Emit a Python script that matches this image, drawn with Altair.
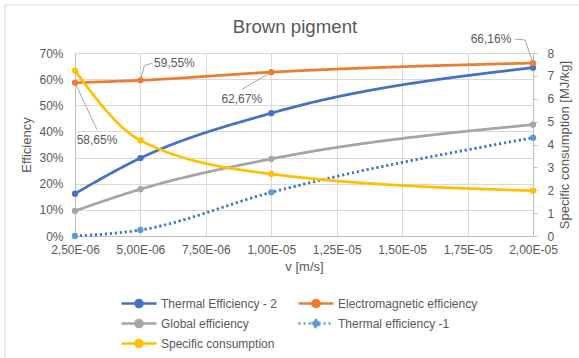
import altair as alt
import pandas as pd

# ---- data -------------------------------------------------------------
v = [2.5e-6, 5.0e-6, 1.0e-5, 2.0e-5]
thermal_eff_2 = [0.162, 0.298, 0.470, 0.644]
electromagnetic_eff = [0.5865, 0.5955, 0.6267, 0.6616]
global_eff = [0.096, 0.179, 0.295, 0.426]
thermal_eff_1 = [0.0, 0.023, 0.167, 0.376]
specific_consumption = [7.23, 4.18, 2.71, 1.98]

series_names = [
    "Thermal Efficiency - 2",
    "Electromagnetic efficiency",
    "Global efficiency",
    "Thermal efficiency -1",
    "Specific consumption",
]
series_colors = ["#4472C4", "#ED7D31", "#A5A5A5", "#5B9BD5", "#FFC000"]
x_ticks = [2.5e-6, 5.0e-6, 7.5e-6, 1.0e-5, 1.25e-5, 1.5e-5, 1.75e-5, 2.0e-5]
left_ticks = [0, 0.1, 0.2, 0.3, 0.4, 0.5, 0.6, 0.7]
right_ticks = [0, 1, 2, 3, 4, 5, 6, 7, 8]

# ---- styling ------------------------------------------------------------
W, H = 458, 183
FONT = "Liberation Sans"
TXT = "#595959"
GRID = "#D9D9D9"
DOMAIN = "#BFBFBF"
DOTTED = "#4472C4"
SOLID = [1, 0]
DOT_DASH = [2, 3]
series_dash = [SOLID, SOLID, SOLID, DOT_DASH, SOLID]

# legend glyph: a line with a marker in the middle (unit size 10 px -> 35 px wide)
LEGEND_GLYPH = "M-3.5,0L3.5,0M0.7,0A0.7,0.7,0,1,1,-0.7,0A0.7,0.7,0,1,1,0.7,0Z"

# label placement around the electromagnetic points: (text dx, text dy, leader vertices)
label_style = [
    (22, 57, [(0, 0), (22, 47)]),
    (34, -17, [(0, 0), (4, -15), (12, -17)]),
    (-29.5, 27, [(0, 0), (-29, 17)]),
    (-42, -24, [(0, 0), (-8, -23), (-18, -24)]),
]

rows = []
for name, vals in zip(series_names, [thermal_eff_2, electromagnetic_eff, global_eff,
                                     thermal_eff_1, specific_consumption]):
    for xv, yv in zip(v, vals):
        rows.append({"v": xv, "series": name, "value": yv})
df = pd.DataFrame(rows)

x_span = x_ticks[-1] - x_ticks[0]
y_span = left_ticks[-1] - left_ticks[0]

legend = alt.Legend(
    orient="none", legendX=57.5, legendY=244, direction="horizontal", columns=2,
    title=None, symbolType=LEGEND_GLYPH,
    symbolSize=100, symbolStrokeWidth=2.5, symbolOpacity=1,
    labelFont=FONT, labelFontSize=12, labelColor=TXT, labelOffset=15.5,
    columnPadding=16, rowPadding=3, labelLimit=300,
)
color = alt.Color(
    "series:N",
    scale=alt.Scale(domain=series_names, range=series_colors),
    sort=series_names,
    legend=legend,
)
dash = alt.StrokeDash(
    "series:N",
    scale=alt.Scale(domain=series_names, range=series_dash),
    sort=series_names,
    legend=legend,
)

x_enc = alt.X(
    "v:Q",
    scale=alt.Scale(domain=[x_ticks[0], x_ticks[-1]], nice=False, zero=False),
    axis=alt.Axis(
        values=x_ticks, title="v [m/s]", grid=True, gridColor=GRID, gridWidth=1,
        domainColor=DOMAIN, ticks=False, tickSize=0, labelPadding=8,
        labelExpr="replace(replace(upper(format(datum.value, '.2e')), '.', ','), 'E-', 'E-0')",
        labelFont=FONT, labelFontSize=12, labelColor=TXT,
        titleFont=FONT, titleFontSize=13, titleColor=TXT, titleFontWeight="normal",
        titlePadding=5, labelFlush=False,
    ),
)

y_left = alt.Y(
    "value:Q",
    scale=alt.Scale(domain=[0, 0.7], nice=False),
    axis=alt.Axis(
        values=left_ticks, format=".0%", title="Efficiency", grid=True, gridColor=GRID,
        domainColor=DOMAIN, ticks=False, tickSize=0, labelPadding=12,
        labelFont=FONT, labelFontSize=12, labelColor=TXT,
        titleFont=FONT, titleFontSize=13, titleColor=TXT, titleFontWeight="normal",
        titlePadding=5,
    ),
)

y_right = alt.Y(
    "value:Q",
    scale=alt.Scale(domain=[0, 8], nice=False),
    axis=alt.Axis(
        orient="right", values=right_ticks, title="Specific consumption [MJ/kg]", grid=False,
        domainColor=DOMAIN, tickColor=DOMAIN, tickSize=4, labelPadding=10,
        labelFont=FONT, labelFontSize=12, labelColor=TXT,
        titleFont=FONT, titleFontSize=13, titleColor=TXT, titleFontWeight="normal",
        titlePadding=18, titleAngle=270,
    ),
)

base = alt.Chart(df)
left_series = series_names[:4]

# light frame around the chart area
frame_src = alt.Chart(pd.DataFrame({"k": [0]}))
frame_v = frame_src.mark_rule(color=GRID, strokeWidth=1).encode(
    x=alt.value(-70), y=alt.value(-48), y2=alt.value(H + 130))
frame_h = frame_src.mark_rule(color=GRID, strokeWidth=1).encode(
    x=alt.value(-70), x2=alt.value(W + 60), y=alt.value(-48))

left_lines = base.transform_filter(
    alt.FieldOneOfPredicate(field="series", oneOf=left_series)
).mark_line(interpolate="monotone", strokeWidth=2.75).encode(
    x=x_enc, y=y_left, color=color, strokeDash=dash)

# darker dots over the dotted series
dotted_line = base.transform_filter(
    alt.datum.series == series_names[3]
).mark_line(interpolate="monotone", strokeWidth=2.5, strokeDash=DOT_DASH,
            color=DOTTED).encode(x=x_enc, y=y_left)

# leader lines and value labels for the electromagnetic series
leader_rows = []
label_layers = []
for i, (xv, yv) in enumerate(zip(v, electromagnetic_eff)):
    dx, dy, verts = label_style[i]
    for j, (ox, oy) in enumerate(verts):
        leader_rows.append({"lab": i, "ord": j,
                            "v": xv + ox * x_span / W,
                            "value": yv - oy * y_span / H})
    text = f"{yv * 100:.2f}%".replace(".", ",")
    label_layers.append(
        alt.Chart(pd.DataFrame({"v": [xv], "value": [yv], "txt": [text]}))
        .mark_text(dx=dx, dy=dy, font=FONT, fontSize=12, color=TXT,
                   align="center", baseline="middle")
        .encode(x=x_enc, y=y_left, text="txt:N")
    )

leaders = alt.Chart(pd.DataFrame(leader_rows)).mark_line(
    color="#A6A6A6", strokeWidth=1).encode(
    x=x_enc, y=y_left, detail="lab:N", order="ord:Q")

left_points = base.transform_filter(
    alt.FieldOneOfPredicate(field="series", oneOf=left_series)
).mark_point(filled=True, size=40, opacity=1).encode(x=x_enc, y=y_left, color=color)

left = alt.layer(frame_v, frame_h, left_lines, dotted_line, leaders, left_points,
                 *label_layers)

right_line = base.transform_filter(
    alt.datum.series == series_names[4]
).mark_line(interpolate="monotone", strokeWidth=2.75).encode(
    x=x_enc, y=y_right, color=color, strokeDash=dash)
right_points = base.transform_filter(
    alt.datum.series == series_names[4]
).mark_point(filled=True, size=40, opacity=1).encode(x=x_enc, y=y_right, color=color)
right = alt.layer(right_line, right_points)

chart = alt.layer(left, right).resolve_scale(y="independent").properties(
    width=W, height=H,
    title=alt.TitleParams("Brown pigment", font=FONT, fontSize=18.67, color=TXT,
                          fontWeight="normal", anchor="middle", frame="group",
                          baseline="alphabetic", dx=-9, dy=19, offset=-28.5),
    autosize=alt.AutoSizeParams(type="none"),
    padding={"left": 75, "top": 53, "right": 579 - 75 - W, "bottom": 358 - 53 - H},
).configure_view(stroke=None).configure(background="white")

chart.save("out.html", embed_options={"renderer": "svg", "actions": False})
